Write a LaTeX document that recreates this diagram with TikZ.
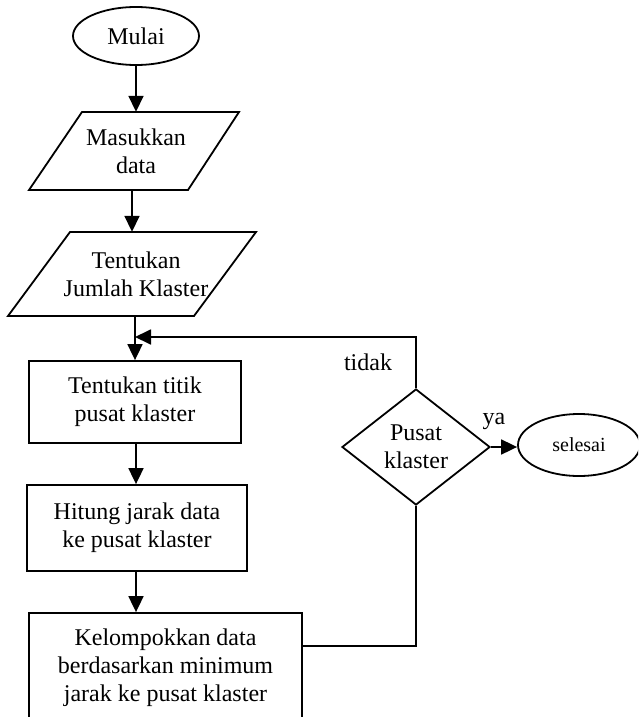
\documentclass[tikz,border=0pt]{standalone}
\usepackage{fontspec}
\setmainfont{Liberation Serif}
\usetikzlibrary{shapes.geometric,arrows.meta}
\begin{document}
\begin{tikzpicture}[x=1pt,y=-1pt,
  every node/.style={font=\fontsize{24}{28}\selectfont, align=center, inner sep=0pt},
  outline/.style={draw=black, line width=1.8pt, line join=miter},
  txt/.style={},
  boxnode/.style={outline, rectangle},
  oval/.style={outline, ellipse},
  decision/.style={outline, diamond},
  arr/.style={line width=1.8pt, -{Triangle[length=16pt,width=15pt]}},
  plain/.style={line width=1.8pt}]
\clip (0,0) rectangle (638,717);
% start
\node[oval, minimum width=126pt, minimum height=58pt] (mulai) at (136,36) {Mulai};
% input 1
\node[txt, minimum height=78pt, minimum width=10pt] (p1) at (136,151) {Masukkan\\data};
\draw[outline] (82,112) -- (239,112) -- (188,190) -- (29,190) -- cycle;
% input 2
\node[txt, minimum height=84pt, minimum width=10pt] (p2) at (136,274) {Tentukan\\Jumlah Klaster};
\draw[outline] (70,232) -- (256,232) -- (194,316) -- (8,316) -- cycle;
% processes
\node[boxnode, minimum width=212pt, minimum height=82pt] (r1) at (135,402) {Tentukan titik\\pusat klaster};
\node[boxnode, minimum width=220pt, minimum height=86pt] (r2) at (137,528) {Hitung jarak data\\ke pusat klaster};
\node[boxnode, minimum width=273pt, minimum height=110pt] (r3) at (165.5,668) {Kelompokkan data\\berdasarkan minimum\\jarak ke pusat klaster};
% decision
\node[decision, minimum width=148pt, minimum height=116pt] (d) at (416,447) {Pusat\\klaster};
% end
\node[oval, minimum width=122pt, minimum height=62pt, font=\fontsize{20}{24}\selectfont] (s) at (579,445) {selesai};
% labels
\node (tidak) at (368,362) {tidak};
\node (ya) at (494,421) {ya};
% connectors
\coordinate (j) at (135,337);
\draw[arr] (mulai.south) -- (mulai.south |- p1.north);
\draw[arr] ([xshift=-4pt]p1.south) -- ([xshift=-4pt]p1.south |- p2.north);
\draw[arr] (p2.south -| r1.north) -- (r1.north);
\draw[arr] (r1.south -| 136,0) -- (r2.north -| 136,0);
\draw[arr] (r2.south -| 136,0) -- (r3.north -| 136,0);
\draw[plain] ([yshift=22pt]r3.east) -| (d.south);
\draw[arr] (d.north) |- (j);
\draw[arr] (d.east) -- (d.east -| s.west);
\end{tikzpicture}
\end{document}
